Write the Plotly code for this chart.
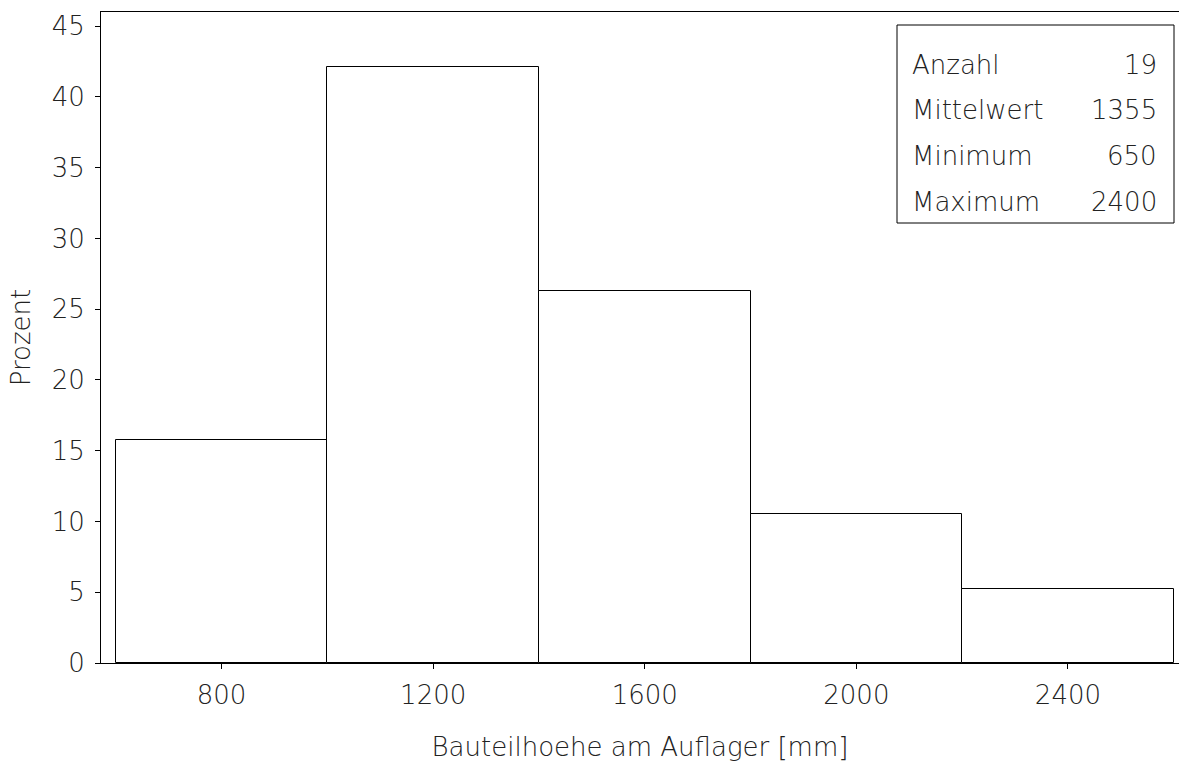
import plotly.graph_objects as go

# Histogram classes (bin centres, mm) and share of members per class (%)
bin_centers = [800, 1200, 1600, 2000, 2400]
bin_width = 400
percent = [15.79, 42.11, 26.32, 10.53, 5.26]

# Summary statistics shown in the box
stat_names = ["Anzahl", "Mittelwert", "Minimum", "Maximum"]
stat_values = ["19", "1355", "650", "2400"]

x_ticks = [800, 1200, 1600, 2000, 2400]
y_ticks = [0, 5, 10, 15, 20, 25, 30, 35, 40, 45]

FONT = dict(family="DejaVu Sans", size=26, color="#222222", weight=200)

fig = go.Figure(
    go.Bar(
        x=bin_centers,
        y=percent,
        width=[bin_width] * len(bin_centers),
        marker=dict(color="white", line=dict(color="black", width=1)),
        hoverinfo="x+y",
    )
)

fig.update_layout(
    width=1179,
    height=764,
    margin=dict(l=101, r=0, t=12, b=101),
    paper_bgcolor="white",
    plot_bgcolor="white",
    font=FONT,
    showlegend=False,
    bargap=0,
)

fig.update_xaxes(
    range=[572, 2610],
    tickvals=x_ticks,
    ticktext=[str(v) for v in x_ticks],
    ticks="outside",
    ticklen=5,
    tickcolor="black",
    ticklabelstandoff=4,
    showline=True,
    linecolor="black",
    linewidth=1,
    mirror=True,
    showgrid=False,
    zeroline=False,
    title=dict(text="Bauteilhoehe am Auflager [mm]", font=FONT, standoff=28),
)

fig.update_yaxes(
    range=[0, 46],
    tickvals=y_ticks,
    ticks="outside",
    ticklen=5,
    tickcolor="black",
    ticklabelstandoff=5,
    showline=True,
    linecolor="black",
    linewidth=1,
    showgrid=False,
    zeroline=False,
    title=dict(text="Prozent", font=FONT, standoff=13),
)

# Statistics box
fig.add_shape(
    type="rect", xref="paper", yref="paper",
    x0=(897 - 101) / 1078, x1=(1174 - 101) / 1078,
    y0=(663 - 223) / 651, y1=(663 - 25) / 651,
    line=dict(color="black", width=1), fillcolor="white", layer="above",
)
row_y = [65, 110, 156.5, 201.5]
for name, val, py in zip(stat_names, stat_values, row_y):
    yp = (663 - py) / 651
    fig.add_annotation(
        x=(910 - 101) / 1078, y=yp, xref="paper", yref="paper",
        text=name, showarrow=False, xanchor="left", yanchor="middle", font=FONT,
    )
    fig.add_annotation(
        x=(1159 - 101) / 1078, y=yp, xref="paper", yref="paper",
        text=val, showarrow=False, xanchor="right", yanchor="middle", font=FONT,
    )

fig.write_html("out.html")
